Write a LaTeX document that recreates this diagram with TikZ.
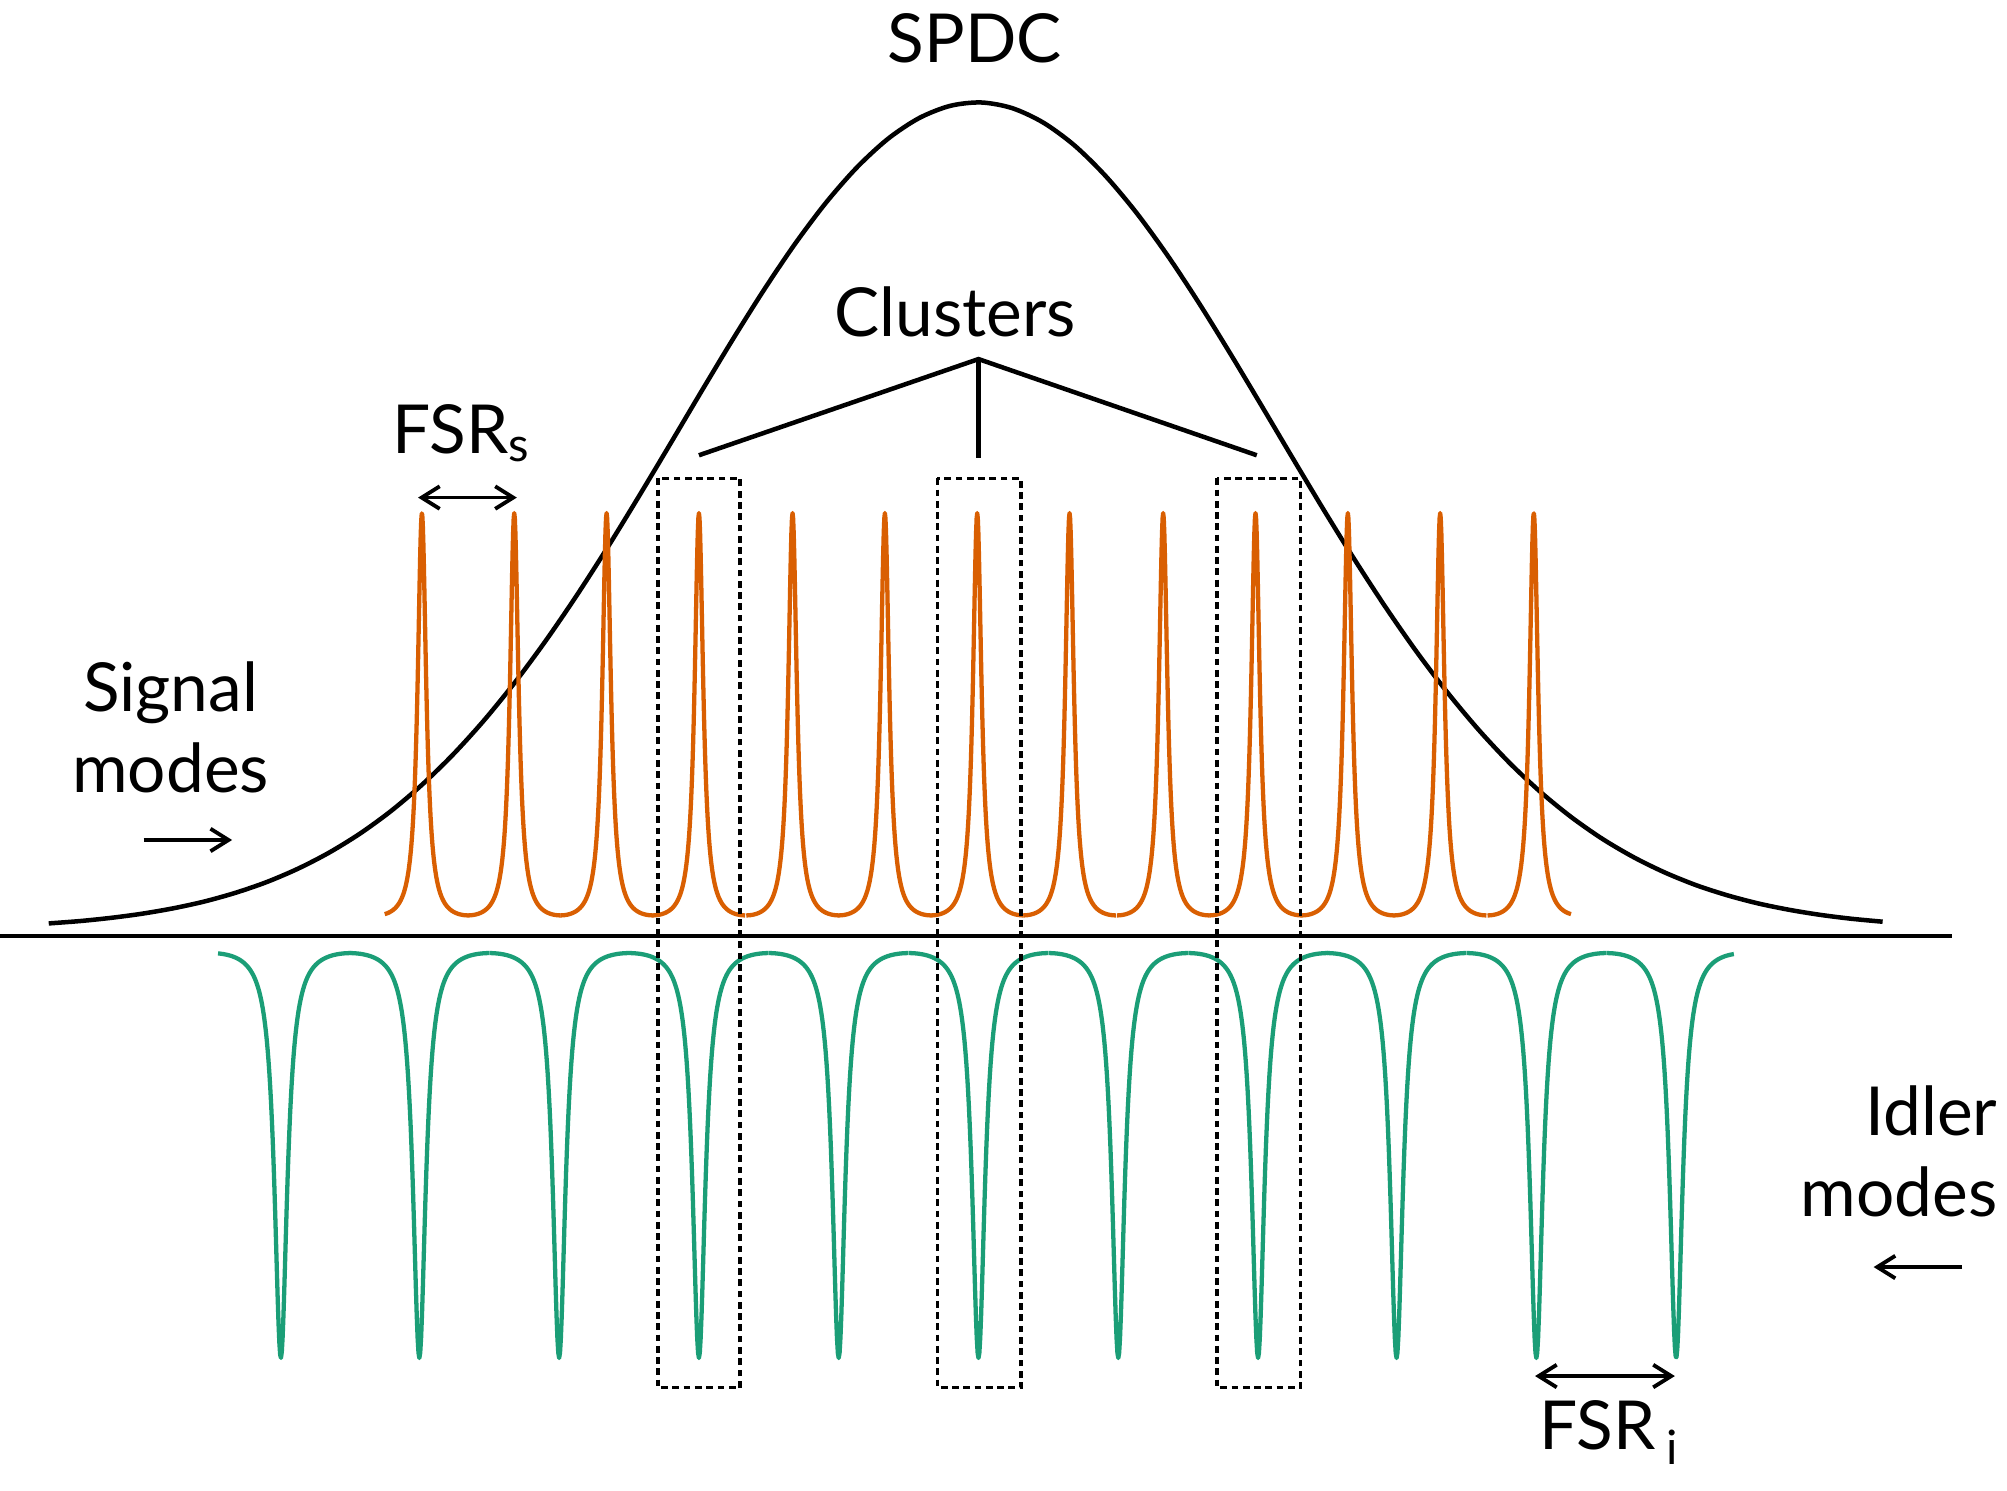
\documentclass[tikz,border=0pt]{standalone}
\usepackage{fontspec}
\setmainfont{Lato}
\usetikzlibrary{arrows.meta}
\begin{document}
\begin{tikzpicture}[x=0.02cm,y=-0.02cm,
  lbl/.style={font=\fontsize{30}{36}\selectfont, inner sep=0pt},
  sig/.style={color={rgb,255:red,217;green,95;blue,2}, line width=1.9pt, line join=round},
  idl/.style={color={rgb,255:red,27;green,158;blue,119}, line width=1.9pt, line join=round},
  box/.style={densely dashed, line width=1.5pt},
  arr/.style={{Straight Barb[length=8pt,width=10pt]}-{Straight Barb[length=8pt,width=10pt]}, line width=1.7pt},
  ar/.style={-{Straight Barb[length=8pt,width=10pt]}, line width=1.7pt}]
\useasboundingbox (0,0) rectangle (1565,1162);
% baseline
\draw[line width=2pt] (0,730) -- (1522,730);
% SPDC gaussian
\draw[line width=2pt] plot[domain=38:1468, samples=60, smooth] (\x, {725-645*exp(-((\x-762)/232)^2/2)});
% signal peaks
\foreach \c/\a/\b in {329/-29/36.1, 401/-36.1/36.1, 473/-36.1/36.1, 545/-36.1/36.1, 618/-36.1/36.1, 690/-36.1/36.1, 762/-36.1/36.1, 834/-36.1/36.1, 907/-36.1/36.1, 979/-36.1/36.1, 1051/-36.1/36.1, 1123/-36.1/36.1, 1196/-36.1/29}
  \draw[sig] plot[domain=\a:\b, samples=161] ({\c+\x}, {722-320*(0.16/(0.16+(\x/10)^2)+0.16/(0.16+((\x-72.2)/10)^2)+0.16/(0.16+((\x+72.2)/10)^2))});
% idler dips
\foreach \c/\a/\b in {219/-49/54.4, 327/-54.4/54.4, 436/-54.4/54.4, 545/-54.4/54.4, 654/-54.4/54.4, 763/-54.4/54.4, 872/-54.4/54.4, 981/-54.4/54.4, 1089/-54.4/54.4, 1198/-54.4/54.4, 1307/-54.4/45}
  \draw[idl] plot[domain=\a:\b, samples=161] ({\c+\x}, {735+322*(0.36/(0.36+(\x/10)^2)+0.36/(0.36+((\x-108.8)/10)^2)+0.36/(0.36+((\x+108.8)/10)^2))});
% boxes
\draw[box] (513,373) rectangle (577,1082);
\draw[box] (731,373) rectangle (796,1082);
\draw[box] (949,373) rectangle (1014,1082);
% labels
\node[lbl] (spdc) at (760,30) {SPDC};
\node[lbl] (clu) at (745,243) {Clusters};
\coordinate (cj) at (763,280);
\coordinate (c1) at (545,355);
\coordinate (c2) at (763,357);
\coordinate (c3) at (980,355);
\draw[line width=2pt] (c1) -- (cj) -- (c3);
\draw[line width=2pt] (cj) -- (c2);
\node[lbl] (fsrs) at (360,338) {FSR\textsubscript{s}};
\coordinate (fs1) at (326,388); \coordinate (fs2) at (403,388);
\draw[arr] (fs1) -- (fs2);
\node[lbl, align=center] (sigm) at (133,567) {Signal\\modes};
\coordinate (sa1) at (112,655); \coordinate (sa2) at (181,655);
\draw[ar] (sa1) -- (sa2);
\node[lbl, align=right, anchor=east] (idm) at (1558,898) {Idler\\modes};
\coordinate (ia1) at (1530,988); \coordinate (ia2) at (1461,988);
\draw[ar] (ia1) -- (ia2);
\coordinate (fi1) at (1197,1073); \coordinate (fi2) at (1306,1073);
\draw[arr] (fi1) -- (fi2);
\node[lbl] (fsri) at (1255,1117) {FSR\,\textsubscript{i}};
\end{tikzpicture}
\end{document}
